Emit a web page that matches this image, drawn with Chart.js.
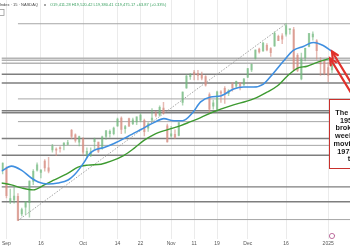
<!DOCTYPE html>
<html><head><meta charset="utf-8">
<script src="https://cdn.jsdelivr.net/npm/chart.js@4.4.1/dist/chart.umd.min.js"></script>
<style>html,body{margin:0;padding:0;background:#fff;overflow:hidden}</style>
</head><body>
<canvas id="c" width="350" height="250"></canvas>
<script>
// ---- data (trading-day index 0 = 3 Sep 2024) ----
const dayIdx = [-1,0,1,2,3,4,5,6,7,8,9,10,11,12,13,14,15,16,17,18,19,20,21,22,23,24,25,26,27,28,29,30,31,32,33,34,35,36,37,38,39,40,41,42,43,44,45,46,47,48,49,50,51,52,53,54,55,56,57,58,59,60,61,62,63,64,65,66,67,68,69,70,71,72,73,74,75,76,77,78,79,80,81,82,83,84,85];
const openV  = [17600,17620,17030,17060,17120,16810,16930,17010,17390,17590,17550,17750,17630,17950,17960,17980,18040,18050,18300,18220,18090,18150,17860,17850,18100,18090,17980,18190,18240,18240,18380,18520,18330,18510,18420,18450,18480,18480,18340,18480,18600,18570,18700,18380,18200,18230,18210,18800,19060,19260,19340,19320,19290,19260,18940,18730,18650,18990,19050,18960,19120,19090,19140,19120,19250,19380,19590,19750,19720,19820,19760,19810,19980,19990,20020,20100,20100,19640,19220,19600,19800,19970,19900,19500,19540,19420,19380];
const highV  = [17720,17650,17250,17300,17170,16910,17030,17400,17600,17720,17600,17780,17820,18050,17990,18010,18080,18120,18320,18240,18200,18170,17990,17990,18160,18090,18200,18300,18310,18360,18520,18540,18390,18520,18520,18540,18600,18500,18440,18690,18640,18740,18800,18410,18370,18310,18440,18990,19290,19320,19370,19370,19340,19280,18970,18840,19000,19010,19080,19030,19160,19180,19160,19230,19410,19490,19740,19770,19870,19850,19780,20060,20000,20030,20205,20110,20140,19670,19680,19770,20030,20060,19920,19600,19550,19520,19560];
const lowV   = [17520,17092,16990,17000,16690,16770,16800,16750,17330,17570,17450,17570,17540,17910,17850,17910,17950,18040,18150,18090,18020,17870,17810,17830,17970,17900,17960,18140,18180,18220,18370,18240,18250,18370,18400,18400,18450,18200,18280,18470,18540,18560,18590,18090,18180,18150,18200,18750,19050,19210,19200,19200,19200,19090,18620,18680,18620,18800,18780,18920,19000,19060,19020,19100,19240,19350,19570,19680,19710,19720,19620,19800,19900,19850,19980,20020,19370,19350,19200,19540,19790,19910,19570,19280,19290,19170,19330];
const closeV = [17714,17136,17084,17127,16691,16885,17026,17396,17570,17684,17592,17628,17573,18014,17948,17974,18075,18082,18191,18120,18189,17910,17925,17918,18138,17923,18183,18291,18282,18343,18503,18316,18367,18374,18490,18540,18573,18277,18415,18519,18567,18712,18607,18095,18240,18180,18439,18983,19270,19287,19299,19282,19231,19107,18680,18792,18988,18966,18972,19004,19054,19175,19060,19218,19404,19481,19735,19701,19860,19737,19687,20034,19903,19927,20173,20109,19393,19372,19573,19764,20031,20020,19722,19487,19311,19281,19540];

// blue moving average
const blueX = [-1.3,1.3,3.9,6.5,8.3,10.9,13.5,16.1,17.7,19.0,20.3,21.6,22.9,25.5,28.1,31.7,35.1,38.5,41.1,43.7,46.0,48.6,50.7,53.3,55.9,59.3,61.9,64.5,67.1,69.7,72.3,74.9,77.5,80.1,82.7,85.0];
const blueY = [17573,17661,17590,17449,17378,17343,17361,17414,17502,17608,17732,17873,17944,17996,18067,18191,18314,18438,18509,18473,18473,18615,18809,18897,18915,19038,19074,19074,19127,19321,19533,19727,19798,19868,19815,19710];
// green moving average
const greenX = [-1.3,1.3,3.9,7.0,9.9,12.5,16.1,18.7,21.3,24.7,27.3,30.7,33.3,35.9,38.5,42.1,45.5,48.1,50.7,54.1,58.5,64.5,68.1,70.7,73.3,75.9,78.5,81.1,84.5];
const greenY = [17361,17326,17273,17237,17326,17414,17537,17643,17679,17696,17749,17855,17979,18120,18226,18314,18385,18456,18527,18632,18738,18862,18985,19091,19268,19409,19445,19515,19586];

// drawn horizontal levels (value, starting day index or null = whole width)
const levelValues = [20204,19586,19551,19498,19303,19145,18862,18650,18615,18456,18155,18032,17855,17290,17025,16707];
const levelStart  = [3,null,null,null,null,null,3,null,null,3,null,3,null,null,null,3];

// dotted trend line from September low to December high
const trendX = [3,73];
const trendY = [16690,20205];

// time axis
const tickIdx = [0,9,20,29,35,43,49,55,63,73,84];
const tickLabels = ['Sep','16','Oct','14','22','Nov','11','19','Dec','16','2025'];

// ---- chart ----
const X_MIN = -1.3, X_MAX = 89.7;
const upCol = 'rgba(110,182,122,0.55)', dnCol = 'rgba(214,140,128,0.6)';
const candleCols = dayIdx.map((d,i)=> closeV[i] >= openV[i] ? upCol : dnCol);

const datasets = [];
datasets.push({type:'line', label:'blue', data: blueX.map((x,i)=>({x, y: blueY[i]})), borderColor:'#3f8fe0', borderWidth:1.6, pointRadius:0, tension:0.4, cubicInterpolationMode:'monotone', order:0});
datasets.push({type:'line', label:'green', data: greenX.map((x,i)=>({x, y: greenY[i]})), borderColor:'#3d9a30', borderWidth:1.4, pointRadius:0, tension:0.4, cubicInterpolationMode:'monotone', order:0});
datasets.push({type:'bar', label:'body', data: dayIdx.map((d,i)=>({x:d, y:[openV[i], closeV[i]]})), backgroundColor:candleCols, barThickness:1.6, minBarLength:1, grouped:false, order:1});
datasets.push({type:'bar', label:'wick', data: dayIdx.map((d,i)=>({x:d, y:[lowV[i], highV[i]]})), backgroundColor:candleCols, barThickness:0.8, grouped:false, order:1});
datasets.push({type:'line', label:'trend', data: trendX.map((x,i)=>({x, y: trendY[i]})), borderColor:'#9a9a9a', borderWidth:0.9, borderDash:[1.5,1.5], pointRadius:0, order:2});
const bandLevels = new Set([19586,19551,19498]);
levelValues.forEach((v,i)=>{
  const full = levelStart[i] === null;
  let col = full ? '#7e7e7e' : '#a6a6a6';
  let w = full ? 1.4 : 1;
  if (bandLevels.has(v)) { col = '#b4b4b4'; w = 1.5; }
  datasets.push({type:'line', label:'lvl'+i, data:[{x: full ? X_MIN : levelStart[i], y:v},{x:X_MAX, y:v}], borderColor:col, borderWidth:w, pointRadius:0, order:3});
});

const decor = {
  id:'decor',
  afterDatasetsDraw(chart){
    const {ctx, scales:{x,y}} = chart;
    const W = chart.width;
    ctx.save();
    // red arrows pointing at the two moving averages' ends
    const tips = [
      [x.getPixelForValue(blueX[blueX.length-1]), y.getPixelForValue(blueY[blueY.length-1])],
      [x.getPixelForValue(greenX[greenX.length-1]), y.getPixelForValue(greenY[greenY.length-1])]
    ];
    ctx.strokeStyle = '#e0312b'; ctx.lineWidth = 2.2; ctx.lineCap='round';
    tips.forEach(([tx,ty])=>{
      const dx = 17, dy = 28; const L = Math.hypot(dx,dy); const ux=dx/L, uy=dy/L;
      ctx.beginPath(); ctx.moveTo(tx+ux*1, ty+uy*1); ctx.lineTo(tx+ux*80, ty+uy*80); ctx.stroke();
      const a = 0.45, hl = 7;
      const c=Math.cos(a), s=Math.sin(a);
      ctx.beginPath();
      ctx.moveTo(tx + (ux*c - uy*s)*hl, ty + (ux*s + uy*c)*hl);
      ctx.lineTo(tx, ty);
      ctx.lineTo(tx + (ux*c + uy*s)*hl, ty + (-ux*s + uy*c)*hl);
      ctx.stroke();
    });
    // annotation box
    ctx.fillStyle = '#fff'; ctx.strokeStyle = '#c9302c'; ctx.lineWidth = 1;
    ctx.fillRect(W-21, 99, 60, 69); ctx.strokeRect(W-20.5, 99.5, 60, 69);
    ctx.fillStyle = '#1a1a1a'; ctx.font = 'bold 7.3px "Liberation Sans", Arial, sans-serif';
    ctx.textAlign = 'center'; ctx.textBaseline = 'middle';
    const lines = ['The 200 hour','19590 was','broken. Over','weekend, the','moving avg at','19734 is the','target'];
    lines.forEach((t,i)=> ctx.fillText(t, W+8, 113 + i*7.7));
    // event icon near the bottom
    ctx.strokeStyle = '#b0508a'; ctx.lineWidth = 0.8;
    ctx.beginPath(); ctx.arc(x.getPixelForValue(85), chart.chartArea.bottom - 3, 2.6, 0, Math.PI*2); ctx.stroke();
    ctx.restore();
  },
  afterDraw(chart){
    const {ctx} = chart;
    ctx.save();
    ctx.font = '4px "Liberation Sans", Arial, sans-serif';
    ctx.textBaseline = 'middle';
    ctx.fillStyle = '#444'; ctx.textAlign = 'right';
    ctx.fillText('Nasdaq Composite Index · 15 · NASDAQ', 38, 5);
    ctx.fillStyle = '#8a8a8a';
    ctx.beginPath(); ctx.arc(45, 5, 1, 0, Math.PI*2); ctx.fill();
    ctx.fillStyle = '#3aa060'; ctx.textAlign = 'left';
    ctx.fillText('O19,411.28 H19,520.42 L19,380.41 C19,475.17 +63.87 (+0.33%)', 50, 5);
    ctx.strokeStyle = '#9a9a9a'; ctx.lineWidth = 0.8;
    ctx.strokeRect(-2, 9.5, 6, 6);
    ctx.restore();
  }
};

new Chart(document.getElementById('c'), {
  type:'bar',
  data:{datasets},
  options:{
    responsive:false, animation:false, devicePixelRatio:1,
    layout:{padding:{bottom:1}},
    plugins:{legend:{display:false}, tooltip:{enabled:false}},
    scales:{
      x:{type:'linear', min:X_MIN, max:X_MAX, offset:false,
        afterBuildTicks: s => { s.ticks = tickIdx.map(v=>({value:v})); },
        ticks:{autoSkip:false, maxRotation:0, minRotation:0, padding:2, color:'#555',
          font:{size:5, family:'"Liberation Sans", Arial, sans-serif'},
          callback:(v)=>{ const k = tickIdx.indexOf(v); return k>=0 ? tickLabels[k] : ''; }},
        grid:{color:'#ebebeb', drawTicks:false, lineWidth:1, offset:false},
        border:{display:false}
      },
      y:{display:false, min:16360, max:20628}
    }
  },
  plugins:[decor]
});
</script>
</body></html>
